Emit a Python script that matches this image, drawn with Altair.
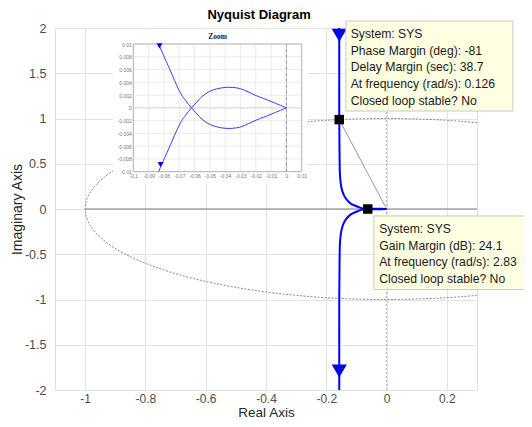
import altair as alt
import pandas as pd

# ---------------- data ----------------
chart_title = "Nyquist Diagram"

# main axes
x_ticks = [-1.0, -0.8, -0.6, -0.4, -0.2, 0.0, 0.2]
y_ticks = [-2.0, -1.5, -1.0, -0.5, 0.0, 0.5, 1.0, 1.5, 2.0]

# Nyquist curve, branch entering from +j (ends at origin)
up_re = [-0.157, -0.157, -0.157, -0.156, -0.155, -0.152, -0.147, -0.138, -0.121, -0.100,
         -0.083, -0.070, -0.062, -0.050, -0.040, -0.030, -0.020, -0.010, 0.000]
up_im = [2.0, 1.5, 1.0, 0.6, 0.4, 0.28, 0.20, 0.13, 0.065, 0.030,
         0.0097, 0.0027, 0.0, -0.0026, -0.0032, -0.0030, -0.0020, -0.0010, 0.0]
# branch entering from -j
lo_re = [-0.157, -0.157, -0.157, -0.156, -0.155, -0.152, -0.147, -0.138, -0.121, -0.100,
         -0.083, -0.070, -0.062, -0.050, -0.040, -0.030, -0.020, -0.010, 0.000]
lo_im = [-2.0, -1.5, -1.0, -0.6, -0.4, -0.28, -0.20, -0.13, -0.065, -0.030,
         -0.0097, -0.0027, 0.0, 0.0026, 0.0032, 0.0030, 0.0020, 0.0010, 0.0]

# direction arrows on the main plot
arrow_re = [-0.157, -0.157]
arrow_im = [1.92, -1.79]

# unit circle (gray dotted)
circ_re = [0.300, 0.174, 0.000, -0.174, -0.342, -0.500, -0.643, -0.766, -0.866, -0.940, -0.985, -1.000,
           -0.985, -0.940, -0.866, -0.766, -0.643, -0.500, -0.342, -0.174, 0.000, 0.174, 0.300]
circ_im = [0.954, 0.985, 1.000, 0.985, 0.940, 0.866, 0.766, 0.643, 0.500, 0.342, 0.174, 0.000,
           -0.174, -0.342, -0.500, -0.643, -0.766, -0.866, -0.940, -0.985, -1.000, -0.985, -0.954]

# stability margin points
pm_point = (-0.157, 0.988)
gm_point = (-0.0624, 0.0)

# data tips
tip1_lines = ["System: SYS", "Phase Margin (deg): -81", "Delay Margin (sec): 38.7",
              "At frequency (rad/s): 0.126", "Closed loop stable? No"]
tip2_lines = ["System: SYS", "Gain Margin (dB): 24.1", "At frequency (rad/s): 2.83",
              "Closed loop stable? No"]

# zoom inset
zx_ticks = [-0.1, -0.09, -0.08, -0.07, -0.06, -0.05, -0.04, -0.03, -0.02, -0.01, 0.0, 0.01]
zy_ticks = [-0.01, -0.008, -0.006, -0.004, -0.002, 0.0, 0.002, 0.004, 0.006, 0.008, 0.01]
zA_re = [-0.0835, -0.0765, -0.070, -0.066, -0.062, -0.0586, -0.055, -0.050, -0.045, -0.040,
         -0.035, -0.030, -0.025, -0.0195, -0.010, 0.0]
zA_im = [0.0100, 0.0062, 0.0027, 0.0012, 0.0, -0.0009, -0.0018, -0.0026, -0.0030, -0.0032,
         -0.0032, -0.0030, -0.0025, -0.0019, -0.0010, 0.0]
zB_re = [-0.0835, -0.0765, -0.070, -0.066, -0.062, -0.0586, -0.055, -0.050, -0.045, -0.040,
         -0.035, -0.030, -0.025, -0.0195, -0.010, 0.0]
zB_im = [-0.0100, -0.0062, -0.0027, -0.0012, 0.0, 0.0009, 0.0018, 0.0026, 0.0030, 0.0032,
         0.0032, 0.0030, 0.0025, 0.0019, 0.0010, 0.0]
zarrow_re = [-0.0829, -0.0822]
zarrow_im = [0.0097, -0.0089]

# ---------------- layout ----------------
W, H = 422, 362
FONT = "Liberation Sans"
minus_fix = "replace(format(datum.value, '~g'), '\u2212', '-')"

main_xs = alt.Scale(domain=[-1.1, 0.3], nice=False, zero=False)
main_ys = alt.Scale(domain=[-2, 2], nice=False, zero=False)
main_xa = alt.Axis(values=x_ticks, title="Real Axis", grid=True, gridColor="#e3e3e3", ticks=False,
                   tickSize=0, domain=False, labelFontSize=12, labelColor="#4d4d4d", labelFont=FONT,
                   labelPadding=3, titleFontSize=13.5, titleColor="#262626", titleFontWeight="normal",
                   titleFont=FONT, titleBaseline="alphabetic", titleY=26, labelExpr=minus_fix,
                   labelFlush=False, zindex=0)
main_ya = alt.Axis(values=y_ticks, title="Imaginary Axis", grid=True, gridColor="#e3e3e3", ticks=False,
                   tickSize=0, domain=False, labelFontSize=12.5, labelColor="#4d4d4d", labelFont=FONT,
                   labelPadding=9, titleFontSize=14, titleColor="#262626", titleFontWeight="normal",
                   titleFont=FONT, titleBaseline="alphabetic", titleX=-34, labelExpr=minus_fix,
                   labelFlush=False, zindex=0)


def MX(f):
    return alt.X(f"{f}:Q", scale=main_xs, axis=main_xa)


def MY(f):
    return alt.Y(f"{f}:Q", scale=main_ys, axis=main_ya)


# curve table
rows = []
for i, (r, m) in enumerate(zip(up_re, up_im)):
    rows.append({"re": r, "im": m, "i": i, "b": "up"})
for i, (r, m) in enumerate(zip(lo_re, lo_im)):
    rows.append({"re": r, "im": m, "i": i, "b": "lo"})
curve_df = pd.DataFrame(rows)
circ_df = pd.DataFrame({"re": circ_re, "im": circ_im, "i": list(range(len(circ_re)))})
arrow_df = pd.DataFrame({"re": arrow_re, "im": arrow_im})
marker_df = pd.DataFrame({"re": [pm_point[0], gm_point[0]], "im": [pm_point[1], gm_point[1]]})
pm_line_df = pd.DataFrame({"re": [0.0, pm_point[0]], "im": [0.0, pm_point[1]]})

tips_df = pd.DataFrame({
    "re": [-0.135, -0.042], "re2": [0.419, 0.52],
    "im": [2.077, -0.077], "im2": [1.083, -0.889],
    "tx": [-0.119, -0.0245], "ty": [2.0, -0.155],
    "label": ["\n".join(tip1_lines), "\n".join(tip2_lines)],
})

real_axis = alt.Chart(pd.DataFrame({"re": [-1.0], "re2": [0.3], "im": [0.0]})).mark_rule(
    color="#7a7a7a", strokeWidth=1).encode(x=MX("re"), x2="re2", y=MY("im"))
imag_axis = alt.Chart(pd.DataFrame({"re": [0.0], "im": [-2.0], "im2": [2.0]})).mark_rule(
    color="#b0b0b0", strokeWidth=1, strokeDash=[2, 2]).encode(x=MX("re"), y=MY("im"), y2="im2")
circle = alt.Chart(circ_df).mark_line(color="#8a8a8a", strokeWidth=1, strokeDash=[2, 1.5],
                                      interpolate="cardinal").encode(
    x=MX("re"), y=MY("im"), order="i:Q")
pm_line = alt.Chart(pm_line_df).mark_line(color="#9a9a9a", strokeWidth=1).encode(x=MX("re"), y=MY("im"))
curve = alt.Chart(curve_df).mark_line(color="#0000ff", strokeWidth=2, interpolate="cardinal").encode(
    x=MX("re"), y=MY("im"), detail="b:N", order="i:Q")
arrows = alt.Chart(arrow_df).mark_point(shape="triangle-down", filled=True, color="#0000ff",
                                        size=230, opacity=1).encode(x=MX("re"), y=MY("im"))
markers = alt.Chart(marker_df).mark_square(color="#000000", size=90, opacity=1).encode(
    x=MX("re"), y=MY("im"))
tip_box = alt.Chart(tips_df).mark_rect(fill="#ffffe1", stroke="#c8c8c8", strokeWidth=1).encode(
    x=MX("re"), x2="re2", y=MY("im"), y2="im2")
tip_text = alt.Chart(tips_df).mark_text(align="left", baseline="top", font=FONT, fontSize=12.2,
                                        lineBreak="\n", lineHeight=16.7, color="#1a1a1a").encode(
    x=MX("tx"), y=MY("ty"), text="label:N")
title_mark = alt.Chart(pd.DataFrame({"re": [-0.423], "im": [2.094], "t": [chart_title]})).mark_text(
    font=FONT, fontSize=13, fontWeight="bold", align="center", baseline="alphabetic",
    color="#000000").encode(x=MX("re"), y=MY("im"), text="t:N")

main = alt.layer(real_axis, imag_axis, circle, pm_line, curve, arrows, markers, tip_box, tip_text,
                 title_mark)

# ---------------- inset ----------------
in_left, in_right, in_top, in_bottom = 78.3, 246.7, 16.0, 143.7
inset_xs = alt.Scale(domain=[-0.1, 0.01], range=[in_left, in_right], nice=False, zero=False)
inset_ys = alt.Scale(domain=[-0.01, 0.01], range=[in_bottom, in_top], nice=False, zero=False)
inset_xa = alt.Axis(values=zx_ticks, orient="bottom", offset=-(H - in_bottom), title=None, grid=False,
                    ticks=False, tickSize=0, domain=False, labelFontSize=5, labelColor="#777777",
                    labelFont=FONT, labelPadding=2, labelExpr=minus_fix, labelFlush=False,
                    labelOverlap=False, zindex=1)
inset_ya = alt.Axis(values=zy_ticks, orient="left", offset=-in_left, title=None, grid=False,
                    ticks=False, tickSize=0, domain=False, labelFontSize=5, labelColor="#777777",
                    labelFont=FONT, labelPadding=2, labelExpr=minus_fix, labelFlush=False,
                    labelOverlap=False, zindex=1)


def IX(f):
    return alt.X(f"{f}:Q", scale=inset_xs, axis=inset_xa)


def IY(f):
    return alt.Y(f"{f}:Q", scale=inset_ys, axis=inset_ya)


zrows = []
for i, (r, m) in enumerate(zip(zA_re, zA_im)):
    zrows.append({"zx": r, "zy": m, "i": i, "b": "A"})
for i, (r, m) in enumerate(zip(zB_re, zB_im)):
    zrows.append({"zx": r, "zy": m, "i": i, "b": "B"})
zcurve_df = pd.DataFrame(zrows)

inset_bg = alt.Chart(pd.DataFrame({"zx": [-0.1133], "zx2": [0.0141], "zy": [-0.0118], "zy2": [0.0122]})
                     ).mark_rect(fill="#ffffff").encode(x=IX("zx"), x2="zx2", y=IY("zy"), y2="zy2")
zgrid_v = alt.Chart(pd.DataFrame({"zx": zx_ticks, "zy": [-0.01] * len(zx_ticks), "zy2": [0.01] * len(zx_ticks)})
                    ).mark_rule(color="#e6e6e6", strokeWidth=0.8).encode(x=IX("zx"), y=IY("zy"), y2="zy2")
zgrid_h = alt.Chart(pd.DataFrame({"zy": zy_ticks, "zx": [-0.1] * len(zy_ticks), "zx2": [0.01] * len(zy_ticks)})
                    ).mark_rule(color="#e6e6e6", strokeWidth=0.8).encode(x=IX("zx"), x2="zx2", y=IY("zy"))
zframe = alt.Chart(pd.DataFrame({"zx": [-0.1], "zx2": [0.01], "zy": [-0.01], "zy2": [0.01]})
                   ).mark_rect(fill=None, stroke="#b4b4b4", strokeWidth=1).encode(
    x=IX("zx"), x2="zx2", y=IY("zy"), y2="zy2")
zaxis_v = alt.Chart(pd.DataFrame({"zx": [0.0], "zy": [-0.01], "zy2": [0.01]})).mark_rule(
    color="#707070", strokeWidth=0.8, strokeDash=[3, 1, 1, 1]).encode(x=IX("zx"), y=IY("zy"), y2="zy2")
zaxis_h = alt.Chart(pd.DataFrame({"zy": [0.0], "zx": [-0.1], "zx2": [0.01]})).mark_rule(
    color="#b0b0b0", strokeWidth=0.8, strokeDash=[1, 1]).encode(x=IX("zx"), x2="zx2", y=IY("zy"))
zcurve = alt.Chart(zcurve_df).mark_line(color="#3a3aff", strokeWidth=1, interpolate="cardinal").encode(
    x=IX("zx"), y=IY("zy"), detail="b:N", order="i:Q")
zarrows = alt.Chart(pd.DataFrame({"zx": zarrow_re, "zy": zarrow_im})).mark_point(
    shape="triangle-down", filled=True, color="#0000ff", size=36, opacity=1).encode(x=IX("zx"), y=IY("zy"))
ztitle = alt.Chart(pd.DataFrame({"zx": [-0.045], "zy": [0.0111], "t": ["Zoom"]})).mark_text(
    font="Liberation Serif", fontWeight="bold", fontSize=7.5, baseline="middle", align="center",
    color="#222222").encode(x=IX("zx"), y=IY("zy"), text="t:N")

inset = alt.layer(inset_bg, zgrid_v, zgrid_h, zaxis_v, zaxis_h, zframe, zcurve, zarrows, ztitle)

chart = alt.layer(main, inset).resolve_scale(x="independent", y="independent").properties(
    width=W, height=H,
    autosize=alt.AutoSizeParams(type="none"),
    padding={"left": 47, "top": 20, "right": 47, "bottom": 29},
).configure_view(stroke="#a0a0a0", strokeWidth=1).configure(background="#ffffff")

chart.save("out.html", embed_options={"renderer": "svg", "actions": False})
